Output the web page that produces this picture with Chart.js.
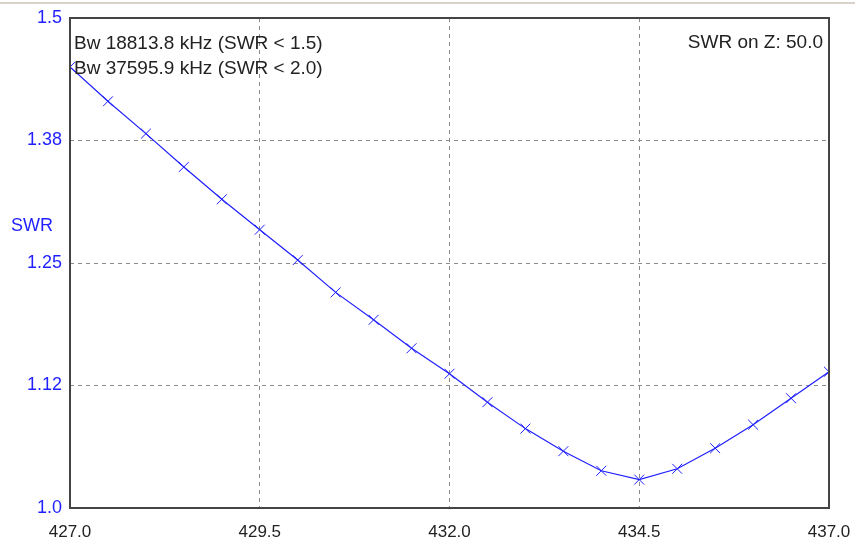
<!DOCTYPE html>
<html>
<head>
<meta charset="utf-8">
<script src="https://cdn.jsdelivr.net/npm/chart.js@4"></script>
<style>
html,body{margin:0;padding:0;background:#fff;}
#wrap{width:855px;height:547px;position:relative;}
</style>
</head>
<body>
<div id="wrap"><canvas id="c" width="855" height="547"></canvas></div>
<script>
const freqs = [427.0,427.5,428.0,428.5,429.0,429.5,430.0,430.5,431.0,431.5,432.0,432.5,433.0,433.5,434.0,434.5,435.0,435.5,436.0,436.5,437.0];
const swr = [1.450,1.415,1.382,1.348,1.315,1.284,1.253,1.220,1.192,1.163,1.137,1.108,1.081,1.058,1.038,1.029,1.040,1.061,1.085,1.112,1.139];
const yTickLabels = ['1.0','1.12','1.25','1.38','1.5'];
const xTickLabels = ['427.0','429.5','432.0','434.5','437.0'];
const yAxisTitle = 'SWR';
const infoLeft = ['Bw 18813.8 kHz (SWR < 1.5)','Bw 37595.9 kHz (SWR < 2.0)'];
const infoRight = 'SWR on Z: 50.0';

const BLUE = '#1f1fff';
const FONT = '"Liberation Sans", Arial, sans-serif';

const overlay = {
  id: 'overlay',
  beforeDraw(chart) {
    const ctx = chart.ctx;
    ctx.save();
    ctx.fillStyle = '#fff';
    ctx.fillRect(0, 0, chart.width, chart.height);
    ctx.fillStyle = '#d9d2ca';
    ctx.fillRect(0, 2, chart.width, 2);
    ctx.restore();
  },
  afterDatasetsDraw(chart) {
    const ctx = chart.ctx;
    const a = chart.chartArea;
    ctx.save();
    // frame
    ctx.strokeStyle = '#444';
    ctx.lineWidth = 2;
    ctx.strokeRect(a.left, a.top, a.right - a.left, a.bottom - a.top);
    // texts
    ctx.fillStyle = '#222';
    ctx.font = '19px ' + FONT;
    ctx.textBaseline = 'middle';
    ctx.textAlign = 'left';
    ctx.fillText(infoLeft[0], a.left + 4, 43.5);
    ctx.fillText(infoLeft[1], a.left + 4, 69);
    ctx.textAlign = 'right';
    ctx.fillText(infoRight, a.right - 6, 43);
    ctx.fillStyle = BLUE;
    ctx.font = '18px ' + FONT;
    ctx.textAlign = 'left';
    ctx.fillText(yAxisTitle, 11, 226);
    ctx.restore();
  }
};

new Chart(document.getElementById('c'), {
  type: 'line',
  data: {
    datasets: [{
      data: freqs.map((f, i) => ({x: f, y: swr[i]})),
      borderColor: BLUE,
      borderWidth: 1.2,
      pointStyle: 'crossRot',
      pointRadius: 7,
      pointBorderColor: BLUE,
      pointBorderWidth: 1,
      pointHoverRadius: 7,
      tension: 0,
      fill: false
    }]
  },
  options: {
    responsive: false,
    animation: false,
    devicePixelRatio: 1,
    layout: {padding: {left: 0, top: 18, right: 26, bottom: 0}},
    plugins: {legend: {display: false}, tooltip: {enabled: false}},
    scales: {
      x: {
        type: 'linear',
        min: 427, max: 437,
        afterFit(s) { s.height = 39; s.paddingLeft = 0; s.paddingRight = 0; },
        afterBuildTicks(s) { s.ticks = xTickLabels.map(v => ({value: parseFloat(v)})); },
        ticks: {
          autoSkip: false,
          maxRotation: 0,
          padding: 14,
          color: '#222',
          font: {family: FONT, size: 17},
          callback: (v, i) => xTickLabels[i]
        },
        grid: {color: '#8a8a8a', lineWidth: 1, drawTicks: false},
        border: {display: false, dash: [4, 4]}
      },
      y: {
        min: 1.0, max: 1.5,
        afterFit(s) { s.width = 70; s.paddingTop = 0; s.paddingBottom = 0; },
        afterBuildTicks(s) { s.ticks = yTickLabels.map((v, i) => ({value: 1.0 + i * 0.125})); },
        ticks: {
          autoSkip: false,
          padding: 8,
          color: BLUE,
          font: {family: FONT, size: 18},
          callback: (v, i) => yTickLabels[i]
        },
        grid: {color: '#8a8a8a', lineWidth: 1, drawTicks: false},
        border: {display: false, dash: [4, 4]}
      }
    }
  },
  plugins: [overlay]
});
</script>
</body>
</html>
